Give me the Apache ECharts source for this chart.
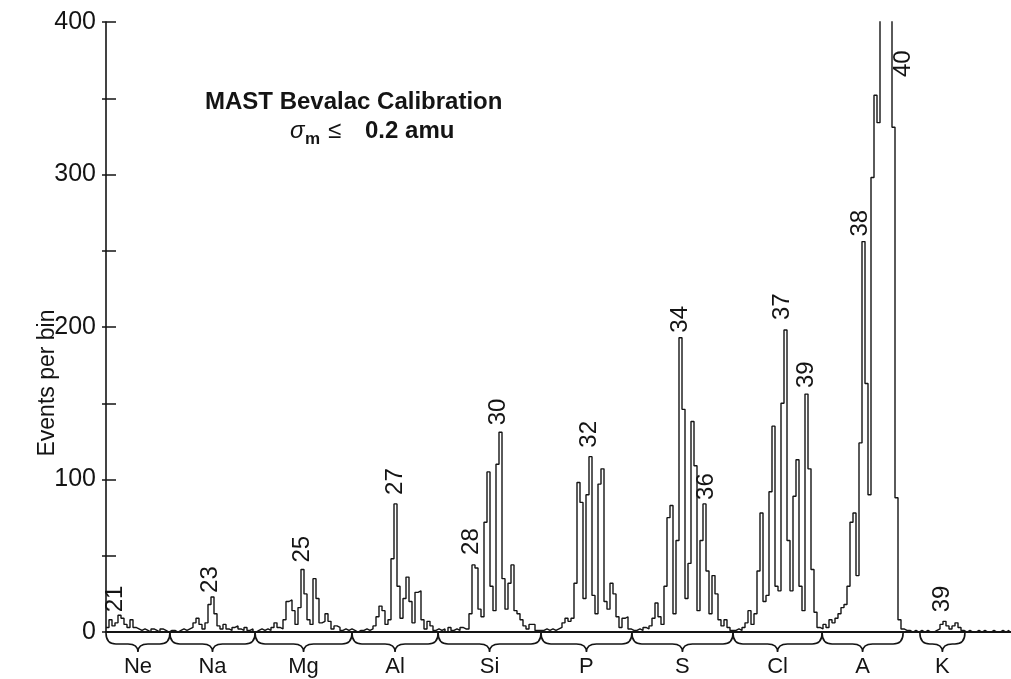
<!DOCTYPE html>
<html>
<head>
<meta charset="utf-8">
<title>MAST Bevalac Calibration</title>
<script src="https://cdn.jsdelivr.net/npm/echarts/dist/echarts.min.js"></script>
<style>
  html, body { margin: 0; padding: 0; background: #ffffff; }
  #chart { width: 1011px; height: 679px; }
</style>
</head>
<body>
<div id="chart"></div>
<script>
// Events per bin, one entry per histogram bin, grouped by element band
const neCounts = [3, 8, 4, 6, 11, 9, 5, 3, 8, 3, 2, 1, 2, 1, 0, 2, 1, 0, 2, 1, 0, 1];
const naCounts = [1, 0, 1, 2, 1, 2, 3, 6, 9, 5, 2, 6, 18, 23, 12, 4, 2, 5, 2, 1, 3, 4, 2, 1, 3, 1, 2, 0];
const mgCounts = [1, 2, 1, 2, 1, 3, 6, 3, 2, 8, 20, 21, 14, 5, 16, 41, 25, 8, 5, 35, 22, 6, 7, 12, 7, 2, 4, 3, 1, 2, 1, 2, 1];
const alCounts = [0, 1, 1, 2, 1, 2, 4, 10, 17, 14, 5, 8, 48, 84, 30, 9, 22, 36, 20, 6, 26, 27, 8, 2, 7, 4, 1, 2];
const siCounts = [1, 2, 0, 3, 1, 2, 1, 3, 2, 2, 12, 44, 42, 15, 10, 72, 105, 30, 14, 110, 131, 35, 15, 32, 44, 14, 12, 8, 4, 2, 5, 5, 1, 1];
const pCounts  = [1, 2, 1, 2, 1, 2, 3, 6, 9, 7, 9, 32, 98, 85, 22, 90, 115, 24, 12, 97, 107, 20, 15, 32, 25, 10, 3, 9, 10, 2, 1];
const sCounts  = [1, 2, 1, 3, 2, 4, 9, 19, 10, 5, 30, 75, 83, 12, 60, 193, 146, 22, 45, 138, 109, 14, 60, 84, 40, 12, 37, 25, 8, 4, 8, 3, 1];
const clCounts = [1, 2, 1, 3, 6, 14, 5, 12, 40, 78, 20, 24, 92, 135, 30, 27, 150, 198, 60, 27, 89, 113, 30, 14, 156, 107, 41, 13, 3];
const arCounts = [2, 5, 3, 8, 6, 9, 12, 16, 18, 30, 72, 78, 37, 124, 256, 163, 90, 298, 352, 334, 640, 700, 650, 480, 331, 88, 8, 2];
const kCounts  = [1, 1, 0, 1, 0, 1, 0, 1, 0, 0, 1, 2, 5, 7, 4, 2, 4, 6, 3, 1, 0, 1, 0, 0, 1, 0, 1, 0, 0, 1, 0, 0, 1, 0, 1, 0];

// Element bands under the axis (in bin units) and their names
const elementNames = ['Ne', 'Na', 'Mg', 'Al', 'Si', 'P', 'S', 'Cl', 'A', 'K'];
const bandStart    = [0, 21.3, 49.7, 82, 110.7, 145, 175.3, 209, 238.7, 271.3];
const bandEnd      = [21.3, 49.7, 82, 110.7, 145, 175.3, 209, 238.7, 265.7, 286.3];

// Mass-number labels and the bin of the peak each one marks
const massLabels = ['21', '23', '25', '27', '28', '30', '32', '34', '36', '37', '39', '38', '40', '39'];
const peakBins   = [4, 35, 65, 96, 122, 131, 161, 191, 199, 226, 233, 252, 260, 279];

// Y axis
const yMin = 0, yMax = 400, yStep = 50;
const yLabelValues = [0, 100, 200, 300, 400];

const counts = [].concat(neCounts, naCounts, mgCounts, alCounts, siCounts,
                         pCounts, sCounts, clCounts, arCounts, kCounts);
const xMax = 302;

// pixel nudges for the rotated mass labels: [dx, gap above peak]
const labelNudge = [[-4, 3], [-2, 4], [0, 7], [0, 9], [-2, 10], [-2, 7], [-1, 9], [0, 5],
                    [2, 4], [-3, 10], [0, 6], [-3, 5], [16, -55], [-2, 9]];

const INK = '#141414';
const SANS = '"Liberation Sans", Arial, sans-serif';

const chart = echarts.init(document.getElementById('chart'), null, { renderer: 'canvas' });

function bracePath(x0, x1, y0) {
  const h = 11, tip = 19, r = 10;
  const xm = (x0 + x1) / 2;
  return 'M' + x0 + ',' + y0 +
    ' C' + x0 + ',' + (y0 + h * 0.7) + ' ' + (x0 + r * 0.3) + ',' + (y0 + h) + ' ' + (x0 + r) + ',' + (y0 + h) +
    ' L' + (xm - r) + ',' + (y0 + h) +
    ' C' + (xm - r * 0.4) + ',' + (y0 + h) + ' ' + xm + ',' + (y0 + h + 2) + ' ' + xm + ',' + (y0 + tip) +
    ' C' + xm + ',' + (y0 + h + 2) + ' ' + (xm + r * 0.4) + ',' + (y0 + h) + ' ' + (xm + r) + ',' + (y0 + h) +
    ' L' + (x1 - r) + ',' + (y0 + h) +
    ' C' + (x1 - r * 0.3) + ',' + (y0 + h) + ' ' + x1 + ',' + (y0 + h * 0.7) + ' ' + x1 + ',' + y0;
}

const option = {
  animation: false,
  backgroundColor: '#ffffff',
  grid: { left: 106, top: 22, right: -1, bottom: 47, outerBoundsMode: 'none', containLabel: false },
  xAxis: [
    {
      type: 'value', min: 0, max: xMax, position: 'bottom',
      axisLine: { show: true, onZero: false, lineStyle: { color: INK, width: 2 } },
      axisTick: { show: false }, axisLabel: { show: false }, splitLine: { show: false }
    },
    {
      type: 'value', min: 0, max: xMax, position: 'top',
      axisLine: { show: true, lineStyle: { color: INK, width: 1.6 } },
      axisTick: { show: false }, axisLabel: { show: false }, splitLine: { show: false }
    }
  ],
  yAxis: [
    {
      type: 'value', min: yMin, max: yMax, interval: yStep, position: 'left',
      axisLine: { show: true, lineStyle: { color: INK, width: 1.6 } },
      axisTick: { show: true, inside: true, length: 10, lineStyle: { color: INK, width: 1.5 } },
      axisLabel: {
        show: true, margin: 10, color: INK, fontFamily: SANS, fontSize: 25,
        formatter: v => (yLabelValues.indexOf(v) >= 0 ? String(v) : '')
      },
      splitLine: { show: false }
    },
    {
      type: 'value', min: yMin, max: yMax, interval: yStep, position: 'right',
      axisLine: { show: false },
      axisTick: { show: true, inside: true, length: 4, lineStyle: { color: INK, width: 1.5 } },
      axisLabel: { show: false }, splitLine: { show: false }
    }
  ],
  series: [
    {
      type: 'line',
      step: 'end',
      symbol: 'none',
      clip: true,
      data: counts.map((v, i) => [i, v]),
      lineStyle: { color: INK, width: 1.4 }
    },
    {
      // rotated mass-number labels above their peaks
      type: 'custom',
      clip: false,
      encode: { x: 0, y: 1 },
      data: peakBins.map(b => [b + 0.5, Math.min(counts[b], yMax)]),
      renderItem: (params, api) => {
        const k = params.dataIndex;
        const p = api.coord([api.value(0), api.value(1)]);
        return {
          type: 'text',
          x: p[0] + labelNudge[k][0],
          y: p[1] - labelNudge[k][1],
          rotation: Math.PI / 2,
          style: {
            text: massLabels[k], fill: INK,
            font: '24px ' + SANS, align: 'left', verticalAlign: 'middle'
          }
        };
      }
    },
    {
      // element braces and names beneath the axis
      type: 'custom',
      clip: false,
      encode: { x: [0, 1], y: 2 },
      data: bandStart.map((s, i) => [s, bandEnd[i], 0]),
      renderItem: (params, api) => {
        const k = params.dataIndex;
        const a = api.coord([api.value(0), 0]);
        const b = api.coord([api.value(1), 0]);
        const y0 = a[1] + 1;
        return {
          type: 'group',
          children: [
            {
              type: 'path',
              shape: { pathData: bracePath(a[0], b[0], y0) },
              style: { fill: 'none', stroke: INK, lineWidth: 1.6 }
            },
            {
              type: 'text',
              x: (a[0] + b[0]) / 2, y: y0 + 34,
              style: {
                text: elementNames[k], fill: INK,
                font: '22px ' + SANS, align: 'center', verticalAlign: 'middle'
              }
            }
          ]
        };
      }
    }
  ],
  graphic: [
    { type: 'text', x: 205, y: 102,
      style: { text: 'MAST Bevalac Calibration', fill: INK, font: 'bold 24px ' + SANS, verticalAlign: 'middle' } },
    { type: 'text', x: 290, y: 131,
      style: { text: 'σ', fill: INK, font: 'italic 24px ' + SANS, verticalAlign: 'middle' } },
    { type: 'text', x: 305, y: 139,
      style: { text: 'm', fill: INK, font: 'bold 17px ' + SANS, verticalAlign: 'middle' } },
    { type: 'text', x: 328, y: 131,
      style: { text: '≤', fill: INK, font: '24px ' + SANS, verticalAlign: 'middle' } },
    { type: 'text', x: 365, y: 131,
      style: { text: '0.2 amu', fill: INK, font: 'bold 24px ' + SANS, verticalAlign: 'middle' } },
    { type: 'text', x: 48, y: 383, rotation: Math.PI / 2,
      style: { text: 'Events per bin', fill: INK, font: '23px ' + SANS, align: 'center', verticalAlign: 'middle' } }
  ]
};

chart.setOption(option);
</script>
</body>
</html>
